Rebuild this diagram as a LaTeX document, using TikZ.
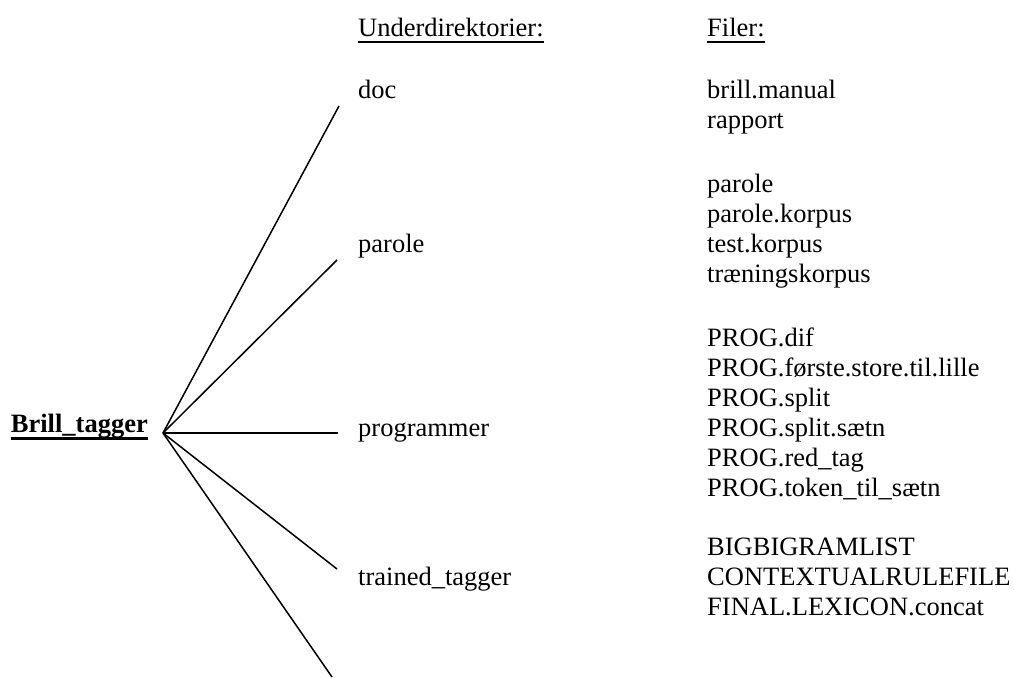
\documentclass[tikz,border=0pt]{standalone}
\usepackage{fontspec}
\setmainfont{Liberation Serif}

\begin{document}
\begin{tikzpicture}[x=1pt,y=-1pt,
  every node/.style={inner sep=0pt, anchor=base west, font=\fontsize{26.5}{30}\selectfont},
  branch/.style={line width=1.5pt},
  uline/.style={line width=1.7pt}]
\useasboundingbox (0,0) rectangle (1014,677);

% Column headings
\node (hdir) at (358,36.7) {Underdirektorier:};
\node (hfil) at (707,36.7) {Filer:};
\draw [uline] ([yshift=-5pt]hdir.base west) -- ([yshift=-5pt]hdir.base east);
\draw [uline] ([yshift=-5pt]hfil.base west) -- ([yshift=-5pt]hfil.base east);

% Root directory
\node [anchor=base east, font=\fontsize{26.5}{30}\selectfont\bfseries] (root) at (148,432) {Brill\_tagger};
\draw [uline, line width=2.3pt] ([yshift=-6.5pt]root.base west) -- ([yshift=-6.5pt]root.base east);
\coordinate (hub) at (163,433);

% Subdirectories
\node (doc) at (358,98) {doc};
\node (parole) at (358,252) {parole};
\node (prog) at (358,436) {programmer};
\node (trained) at (358,585) {trained\_tagger};

% Branch ends
\coordinate (e1) at (339,106);
\coordinate (e2) at (337,260);
\coordinate (e3) at (338,433);
\coordinate (e4) at (337,569);
\coordinate (e5) at (332,677);

\foreach \e in {e1,e2,e3,e4,e5} {
\draw [branch] (hub) -- (\e);
}

% Files in each subdirectory
\foreach \f [count=\i] in {brill.manual, rapport} {
\node (doc-\i) at (707, {98+30*(\i-1)}) {\f};
}
\foreach \f [count=\i] in {parole, parole.korpus, test.korpus, træningskorpus} {
\node (parole-\i) at (707, {192+30*(\i-1)}) {\f};
}
\foreach \f [count=\i] in {PROG.dif, PROG.første.store.til.lille, PROG.split, PROG.split.sætn, PROG.red\_tag, PROG.token\_til\_sætn} {
\node (prog-\i) at (707, {346+30*(\i-1)}) {\f};
}
\foreach \f [count=\i] in {BIGBIGRAMLIST, CONTEXTUALRULEFILE, FINAL.LEXICON.concat} {
\node (trained-\i) at (707, {555+30*(\i-1)}) {\f};
}
\end{tikzpicture}
\end{document}
